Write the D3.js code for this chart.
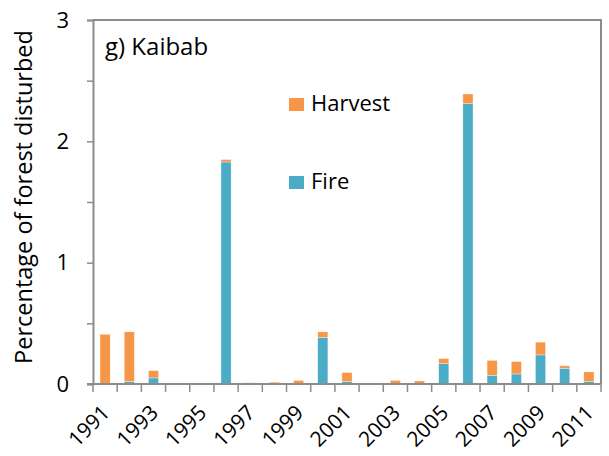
<!DOCTYPE html>
<html>
<head>
<meta charset="utf-8">
<script src="https://cdn.jsdelivr.net/npm/d3@7"></script>
<style>
  body { margin: 0; background: #fff; }
  text { font-family: "Open Sans", "Noto Sans", sans-serif; fill: #000; }
</style>
</head>
<body>
<svg id="chart" width="609" height="456"></svg>
<script>
// Data
var years = d3.range(1991, 2012).map(String);
var fire = [0, 0.02, 0.05, 0, 0, 1.83, 0, 0, 0, 0.385, 0.02, 0, 0, 0, 0.17, 2.31, 0.072, 0.083, 0.24, 0.13, 0.02];
var harvest = [0.41, 0.41, 0.06, 0.006, 0, 0.02, 0.01, 0.015, 0.03, 0.045, 0.075, 0, 0.03, 0.025, 0.04, 0.08, 0.123, 0.102, 0.105, 0.02, 0.08];
var yTicks = [0, 0.5, 1, 1.5, 2, 2.5, 3];
var yLabels = [0, 1, 2, 3];
var seriesNames = ["Harvest", "Fire"];
var colors = { Fire: "#4BACC6", Harvest: "#F79646" };

var svg = d3.select("#chart");
var margin = { left: 93, right: 8, top: 20, bottom: 72 };
var width = 609 - margin.left - margin.right;
var height = 456 - margin.top - margin.bottom;

var x = d3.scaleBand().domain(years).range([margin.left, margin.left + width]).paddingInner(0.58).paddingOuter(0.29);
var xb = d3.scaleBand().domain(years).range([margin.left, margin.left + width]);
var y = d3.scaleLinear().domain([0, 3]).range([margin.top + height, margin.top]);

var table = years.map(function (yr, i) {
  return { year: yr, Fire: fire[i], Harvest: harvest[i] };
});
var stack = d3.stack().keys(["Fire", "Harvest"])(table);

// Frame (top and right)
svg.append("path")
  .attr("d", "M" + margin.left + "," + y(3) + "H" + (margin.left + width) + "V" + y(0))
  .attr("fill", "none")
  .attr("stroke", "#8c8c8c")
  .attr("stroke-width", 2);

// Bars
svg.selectAll("g.series")
  .data(stack)
  .enter()
  .append("g")
  .attr("class", "series")
  .attr("fill", function (d) { return colors[d.key]; })
  .selectAll("rect")
  .data(function (d) { return d; })
  .enter()
  .append("rect")
  .filter(function (d) { return d[1] - d[0] > 0; })
  .attr("x", function (d) { return x(d.data.year); })
  .attr("width", x.bandwidth())
  .attr("y", function (d) { return y(d[1]); })
  .attr("height", function (d) { return y(d[0]) - y(d[1]); })
  .attr("stroke", "#fff")
  .attr("stroke-opacity", 0.6)
  .attr("stroke-width", 0.6);

// Y axis
var yAxis = svg.append("g")
  .attr("transform", "translate(" + margin.left + ",0)")
  .call(d3.axisLeft(y).tickValues(yTicks).tickSize(6).tickFormat(function (d) {
    return yLabels.indexOf(d) >= 0 ? d : "";
  }));
yAxis.select(".domain").attr("stroke", "#8c8c8c").attr("stroke-width", 2);
yAxis.selectAll(".tick line").attr("stroke", "#8c8c8c").attr("stroke-width", 1.5);
yAxis.selectAll(".tick text")
  .attr("x", -24)
  .style("font-size", "22px")
  .style("font-family", "'Open Sans', sans-serif");

// X axis: ticks at band edges, labels every other year
var xAxis = svg.append("g").attr("transform", "translate(0," + y(0) + ")");
xAxis.append("line")
  .attr("x1", margin.left - 6)
  .attr("x2", margin.left + width)
  .attr("stroke", "#8c8c8c")
  .attr("stroke-width", 2);
xAxis.selectAll("line.tick")
  .data(years.concat(["end"]))
  .enter()
  .append("line")
  .attr("class", "tick")
  .attr("x1", function (d) { return d === "end" ? margin.left + width : xb(d); })
  .attr("x2", function (d) { return d === "end" ? margin.left + width : xb(d); })
  .attr("y1", 0)
  .attr("y2", 8)
  .attr("stroke", "#8c8c8c")
  .attr("stroke-width", 1.5);
xAxis.selectAll("text")
  .data(years.filter(function (d, i) { return i % 2 === 0; }))
  .enter()
  .append("text")
  .attr("transform", function (d) {
    return "translate(" + (xb(d) + xb.bandwidth() / 2 + 6) + ",30) rotate(-45)";
  })
  .attr("text-anchor", "end")
  .style("font-size", "21px")
  .text(function (d) { return d; });

// Y axis title
svg.append("text")
  .attr("transform", "translate(32,197) rotate(-90)")
  .attr("text-anchor", "middle")
  .style("font-size", "23.5px")
  .text("Percentage of forest disturbed");

// Panel title
svg.append("text")
  .attr("x", 105)
  .attr("y", 55)
  .style("font-size", "24px")
  .text("g) Kaibab");

// Legend
var legend = svg.selectAll("g.legend")
  .data(seriesNames)
  .enter()
  .append("g")
  .attr("class", "legend")
  .attr("transform", function (d, i) { return "translate(289," + (98 + i * 78) + ")"; });
legend.append("rect")
  .attr("width", 15)
  .attr("height", 13)
  .attr("fill", function (d) { return colors[d]; });
legend.append("text")
  .attr("x", 22)
  .attr("y", 13)
  .style("font-size", "22px")
  .text(function (d) { return d; });
</script>
</body>
</html>
